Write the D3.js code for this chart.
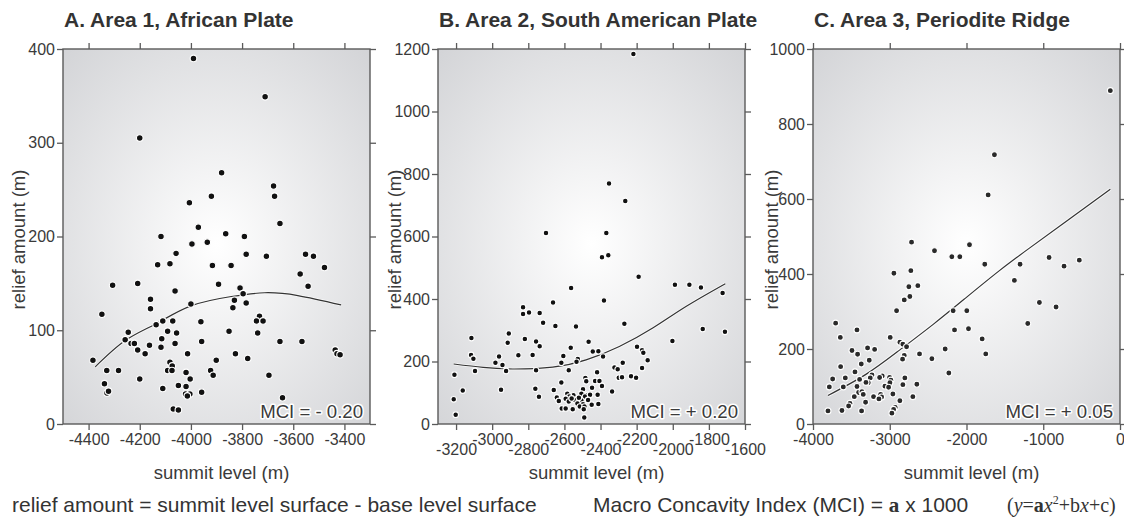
<!DOCTYPE html>
<html>
<head>
<meta charset="utf-8">
<script src="https://cdn.jsdelivr.net/npm/d3@7"></script>
<style>
html,body{margin:0;padding:0;background:#fff;}
svg{display:block;font-family:"Liberation Sans",Arial,sans-serif;}
</style>
</head>
<body>
<svg id="chart" width="1124" height="518"></svg>
<script>
// ---------- DATA ----------
const panelTitles = ["A. Area 1, African Plate", "B. Area 2, South American Plate", "C. Area 3, Periodite Ridge"];
const mciLabels = ["MCI = - 0.20", "MCI = + 0.20", "MCI = + 0.05"];
const xAxisTitle = "summit level (m)";
const yAxisTitle = "relief amount (m)";
const footLeft = "relief amount = summit level surface - base level surface";

const aXTicks = [-4400, -4200, -4000, -3800, -3600, -3400];
const aYTicks = [0, 100, 200, 300, 400];
const bXTicks = [-3200, -3000, -2800, -2600, -2400, -2200, -2000, -1800, -1600];
const bYTicks = [0, 200, 400, 600, 800, 1000, 1200];
const cXTicks = [-4000, -3000, -2000, -1000, 0];
const cYTicks = [0, 200, 400, 600, 800, 1000];

// Area 1 (summit level, relief amount)
const aPoints = [
[-3990,390],[-3710,349],[-4200,305],[-3880,268],[-3677,254],[-3673,243],[-3920,243],[-4006,236],
[-3652,214],[-3971,210],[-4117,200],[-3864,203],[-3791,200],[-3996,192],[-3936,194],[-4058,182],
[-3784,181],[-3705,179],[-3552,181],[-3521,179],[-4130,170],[-4082,171],[-3916,169],[-3843,169],
[-3478,167],[-3573,160],[-4306,148],[-4208,150],[-3892,149],[-3542,147],[-3808,145],[-4062,142],
[-3796,139],[-4158,133],[-4158,123],[-4000,128],[-3830,132],[-3784,129],[-3836,124],[-4348,117],
[-4136,106],[-4110,110],[-4071,110],[-3961,109],[-3732,115],[-3744,110],[-3718,110],[-3739,97],
[-3851,99],[-4245,98],[-4091,99],[-4056,97],[-4257,90],[-4234,86],[-4221,86],[-4114,91],
[-4062,86],[-3958,88],[-3652,88],[-3566,88],[-4208,79],[-4162,84],[-4179,75],[-4117,82],
[-4013,75],[-3826,75],[-3778,70],[-3436,79],[-3429,75],[-3417,74],[-4383,68],[-4082,66],
[-4073,62],[-3901,68],[-4329,57],[-4283,57],[-4091,57],[-4074,57],[-4019,55],[-3923,57],
[-3913,52],[-3695,52],[-4200,48],[-4003,48],[-4338,43],[-4049,41],[-4019,40],[-4110,38],
[-3958,34],[-4328,33],[-4322,35],[-4021,32],[-4004,32],[-4014,30],[-3642,28],[-4069,16],[-4049,15]
];
const aFit = [[-4374,61],[-4257,89],[-4136,107],[-4000,126],[-3842,136],[-3712,140],[-3582,137],[-3413,127]];

// Area 2
const bPoints = [
[-2218,1184],[-2353,770],[-2263,714],[-2702,611],[-2368,611],[-2392,534],[-2357,540],[-2189,471],
[-1988,446],[-1908,446],[-1844,437],[-1724,419],[-2563,435],[-2381,395],[-2663,389],[-2829,374],
[-2829,352],[-2796,357],[-2737,355],[-2718,324],[-2268,321],[-2650,314],[-2536,312],[-1834,304],
[-1711,295],[-2908,290],[-3115,275],[-2819,272],[-2002,266],[-2914,260],[-2757,264],[-2466,263],
[-2737,249],[-2198,247],[-2565,244],[-2443,232],[-2412,233],[-2170,236],[-2163,228],[-3117,221],
[-2855,220],[-2776,221],[-2962,216],[-2606,218],[-2386,216],[-3104,209],[-2526,208],[-2533,199],
[-2139,204],[-2982,196],[-2617,196],[-2943,189],[-2277,196],[-2323,181],[-2305,175],[-2170,179],
[-3095,170],[-2923,170],[-2757,172],[-2576,172],[-2419,166],[-3209,158],[-2231,153],[-2203,148],
[-2299,148],[-2281,150],[-2484,147],[-2479,137],[-2617,133],[-2430,138],[-2406,138],[-2392,122],
[-2447,116],[-2497,111],[-2761,113],[-2659,109],[-2951,110],[-3163,107],[-2336,104],[-2584,97],
[-2550,92],[-2506,97],[-2471,93],[-2416,94],[-2573,88],[-2642,85],[-2741,87],[-2486,88],
[-2458,94],[-2593,81],[-3213,79],[-2631,74],[-2542,77],[-2506,75],[-2469,77],[-2576,72],
[-2528,66],[-2497,63],[-2449,62],[-2412,64],[-2515,56],[-2489,56],[-2615,50],[-2593,50],
[-2554,47],[-2493,47],[-3202,30],[-2490,21],[-2560,82],[-2520,84]
];
const bFit = [[-3213,192],[-3050,181],[-2886,176],[-2665,182],[-2480,205],[-2296,248],[-2111,307],[-1927,376],[-1709,449]];

// Area 3
const cPoints = [
[-126,889],[-1636,718],[-1718,611],[-2716,485],[-2417,462],[-1961,478],[-2191,446],[-2087,446],
[-924,444],[-530,437],[-1762,426],[-1302,426],[-729,421],[-2725,409],[-2946,402],[-1376,383],
[-2751,366],[-2634,369],[-2738,340],[-2811,331],[-1050,324],[-833,312],[-2911,302],[-2174,302],
[-1996,302],[-3705,269],[-1202,268],[-2156,251],[-3427,251],[-1974,254],[-3644,231],[-2994,231],
[-1796,227],[-2868,218],[-2829,213],[-2781,206],[-3289,203],[-3197,199],[-3492,196],[-2278,200],
[-3419,186],[-2811,183],[-2612,187],[-1749,187],[-2451,174],[-2833,173],[-3267,170],[-3371,160],
[-3640,153],[-3453,139],[-2230,136],[-3232,131],[-3098,128],[-3254,123],[-3744,120],[-3579,123],
[-3393,119],[-3002,124],[-2803,123],[-3132,124],[-2985,117],[-3280,110],[-3787,99],[-3605,99],
[-3427,100],[-3310,111],[-3063,101],[-2998,110],[-3015,98],[-2829,105],[-2647,106],[-3406,84],
[-3362,86],[-3345,79],[-3119,79],[-2959,80],[-3462,73],[-3211,73],[-3106,72],[-2699,73],
[-3141,67],[-2868,62],[-3315,58],[-3518,55],[-3536,48],[-2929,44],[-2950,39],[-2972,29],
[-3805,35],[-3623,36],[-3367,35]
];
const cFit = [[-3805,76],[-3306,133],[-2872,197],[-2438,265],[-2005,337],[-1571,409],[-1180,469],[-703,540],[-126,626]];

// ---------- LAYOUT ----------
const svg = d3.select("#chart");
const defs = svg.append("defs");
const panels = [
  {x0:63,  x1:370,  xDom:[-4500,-3300], yDom:[0,400],  xTicks:aXTicks, yTicks:aYTicks, pts:aPoints, fit:aFit, stagger:false, dot:"#111", r:3.3, ylab:19},
  {x0:438, x1:745,  xDom:[-3300,-1600], yDom:[0,1200], xTicks:bXTicks, yTicks:bYTicks, pts:bPoints, fit:bFit, stagger:true,  dot:"#111", r:2.8, ylab:395},
  {x0:813, x1:1120, xDom:[-4000,0],     yDom:[0,1000], xTicks:cXTicks, yTicks:cYTicks, pts:cPoints, fit:cFit, stagger:false, dot:"#2a2a2a", r:3.0, ylab:772}
];
const Y0 = 49, Y1 = 424;
const axisCol = "#5a5a5a", textCol = "#3a3a3a";
const fmt = d => String(d);

panels.forEach((p, i) => {
  const x = d3.scaleLinear().domain(p.xDom).range([p.x0, p.x1]);
  const y = d3.scaleLinear().domain(p.yDom).range([Y1, Y0]);
  const g = svg.append("g");

  const grad = defs.append("radialGradient").attr("id", "bg" + i)
    .attr("cx", "50%").attr("cy", "52%").attr("r", "72%");
  grad.append("stop").attr("offset", "0%").attr("stop-color", "#ffffff");
  grad.append("stop").attr("offset", "100%").attr("stop-color", "#d3d4d7");

  g.append("rect").attr("x", p.x0).attr("y", Y0).attr("width", p.x1 - p.x0).attr("height", Y1 - Y0)
    .attr("fill", "url(#bg" + i + ")");

  const styleAxis = sel => {
    sel.select(".domain").remove();
    sel.selectAll(".tick line").attr("stroke", axisCol).attr("stroke-width", 1.3);
    sel.selectAll("text").attr("fill", textCol).style("font-size", "16px")
      .style("font-family", "'Liberation Sans', Arial, sans-serif");
  };
  const gB = g.append("g").attr("transform", `translate(0,${Y1})`)
    .call(d3.axisBottom(x).tickValues(p.xTicks).tickSize(6).tickPadding(5).tickFormat(fmt));
  styleAxis(gB);
  gB.selectAll("text").attr("y", (d, k) => p.stagger ? (k % 2 === 0 ? 20 : 10) : 10).attr("dy", "0.71em");
  const gT = g.append("g").attr("transform", `translate(0,${Y0})`)
    .call(d3.axisTop(x).tickValues(p.xTicks).tickSize(6).tickFormat(""));
  styleAxis(gT);
  const gL = g.append("g").attr("transform", `translate(${p.x0},0)`)
    .call(d3.axisLeft(y).tickValues(p.yTicks).tickSize(6).tickPadding(2).tickFormat(fmt));
  styleAxis(gL);
  const gR = g.append("g").attr("transform", `translate(${p.x1},0)`)
    .call(d3.axisRight(y).tickValues(p.yTicks).tickSize(6).tickFormat(""));
  styleAxis(gR);

  const line = d3.line().x(d => x(d[0])).y(d => y(d[1])).curve(d3.curveNatural);
  g.append("path").datum(p.fit).attr("d", line).attr("fill", "none")
    .attr("stroke", "#fff").attr("stroke-width", i === 2 ? 3.2 : 2.6).attr("stroke-opacity", 0.8);
  g.append("path").datum(p.fit).attr("d", line).attr("fill", "none")
    .attr("stroke", "#333").attr("stroke-width", 1.2);

  g.append("g").selectAll("circle").data(p.pts).join("circle")
    .attr("cx", d => x(d[0])).attr("cy", d => y(d[1])).attr("r", p.r)
    .attr("fill", p.dot).attr("stroke", "#fff").attr("stroke-width", 1.1);

  g.append("rect").attr("x", p.x0).attr("y", Y0).attr("width", p.x1 - p.x0).attr("height", Y1 - Y0)
    .attr("fill", "none").attr("stroke", axisCol).attr("stroke-width", 1.4);

  g.append("text").attr("x", p.x1 - 7).attr("y", 418).attr("text-anchor", "end")
    .style("font-size", "18.6px").attr("fill", textCol)
    .attr("stroke", "#fff").attr("stroke-width", 3).attr("paint-order", "stroke")
    .attr("stroke-linejoin", "round").text(mciLabels[i]);

  g.append("text").attr("x", p.x0 + 1).attr("y", 27).style("font-size", "21px")
    .style("font-weight", "bold").attr("fill", "#333").text(panelTitles[i]);

  g.append("text").attr("x", (p.x0 + p.x1) / 2 + 5).attr("y", 479).attr("text-anchor", "middle")
    .style("font-size", "18.5px").attr("fill", textCol).text(xAxisTitle);
  g.append("text").attr("transform", `translate(${p.ylab + 6},${(Y0 + Y1) / 2 + 3}) rotate(-90)`)
    .attr("text-anchor", "middle").style("font-size", "18.5px").attr("fill", textCol).text(yAxisTitle);
});

svg.append("text").attr("x", 12).attr("y", 512).style("font-size", "21px").attr("fill", "#333").text(footLeft);
const f2 = svg.append("text").attr("x", 593).attr("y", 512).style("font-size", "21px").attr("fill", "#333");
f2.append("tspan").text("Macro Concavity Index (MCI) = ");
f2.append("tspan").style("font-family", "'Liberation Serif','Times New Roman',serif").style("font-weight", "bold").text("a");
f2.append("tspan").text(" x 1000");
const f3 = svg.append("text").attr("x", 1007).attr("y", 512).style("font-size", "20px").attr("fill", "#333")
  .style("font-family", "'Liberation Serif','Times New Roman',serif");
f3.append("tspan").text("(");
f3.append("tspan").style("font-style", "italic").text("y");
f3.append("tspan").text("=");
f3.append("tspan").style("font-weight", "bold").text("a");
f3.append("tspan").style("font-style", "italic").text("x");
f3.append("tspan").attr("dy", -8).style("font-size", "12px").text("2");
f3.append("tspan").attr("dy", 8).text("+b");
f3.append("tspan").style("font-style", "italic").text("x");
f3.append("tspan").text("+c)");
</script>
</body>
</html>
